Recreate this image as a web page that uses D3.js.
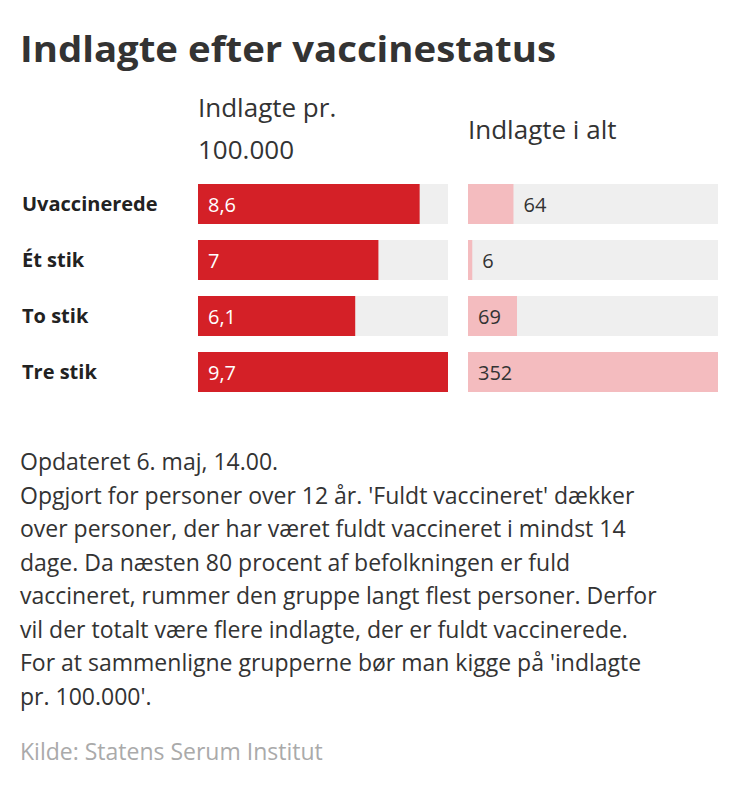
<!DOCTYPE html><html><head><meta charset="utf-8"><script src="https://d3js.org/d3.v7.min.js"></script>
<style>body{margin:0;background:#fff}text{font-family:"Open Sans",sans-serif}</style></head><body><svg id="c" width="750" height="787"></svg>
<script>
const categories=["Uvaccinerede","Ét stik","To stik","Tre stik"];
const per100k=[8.6,7,6.1,9.7];
const total=[64,6,69,352];
const notes=["Opdateret 6. maj, 14.00.","Opgjort for personer over 12 år. 'Fuldt vaccineret' dækker","over personer, der har været fuldt vaccineret i mindst 14","dage. Da næsten 80 procent af befolkningen er fuld","vaccineret, rummer den gruppe langt flest personer. Derfor","vil der totalt være flere indlagte, der er fuldt vaccinerede.","For at sammenligne grupperne bør man kigge på 'indlagte","pr. 100.000'."];
const svg=d3.select("#c");
svg.append("text").attr("x",20).attr("y",62).attr("font-size",35).attr("font-weight",700).attr("fill","#333").attr("textLength",536).attr("lengthAdjust","spacingAndGlyphs").text("Indlagte efter vaccinestatus");
svg.append("text").attr("x",198).attr("y",117).attr("font-size",26).attr("fill","#333").text("Indlagte pr.");
svg.append("text").attr("x",198).attr("y",159).attr("font-size",26).attr("fill","#333").text("100.000");
svg.append("text").attr("x",468).attr("y",139).attr("font-size",26).attr("fill","#333").text("Indlagte i alt");
const y=d3.scaleBand().domain(categories).range([184,392]).paddingInner(16/56).paddingOuter(0);
const x1=d3.scaleLinear().domain([0,d3.max(per100k)]).range([198,448]);
const x2=d3.scaleLinear().domain([0,d3.max(total)]).range([468,718]);
categories.forEach((c,i)=>{
 const yy=y(c),h=y.bandwidth();
 svg.append("text").attr("x",22).attr("y",yy+h/2+7).attr("font-size",20).attr("font-weight",700).attr("fill","#222").text(c);
 svg.append("rect").attr("x",198).attr("y",yy).attr("width",250).attr("height",h).attr("fill","#efefef");
 svg.append("rect").attr("x",198).attr("y",yy).attr("width",x1(per100k[i])-198).attr("height",h).attr("fill","#d42027");
 svg.append("text").attr("x",208).attr("y",yy+h/2+8).attr("font-size",20).attr("fill","#fff").text(String(per100k[i]).replace(".",","));
 svg.append("rect").attr("x",468).attr("y",yy).attr("width",250).attr("height",h).attr("fill","#efefef");
 const w=x2(total[i])-468;
 svg.append("rect").attr("x",468).attr("y",yy).attr("width",w).attr("height",h).attr("fill","#f4bcbf");
 svg.append("text").attr("x",w>=48?478:468+w+10).attr("y",yy+h/2+8).attr("font-size",20).attr("fill","#333").text(total[i]);
});
notes.forEach((n,i)=>svg.append("text").attr("x",20).attr("y",470+i*33.5).attr("font-size",23).attr("fill","#333").text(n));
svg.append("text").attr("x",20).attr("y",760).attr("font-size",23).attr("fill","#aaa").text("Kilde: Statens Serum Institut");
</script></body></html>
